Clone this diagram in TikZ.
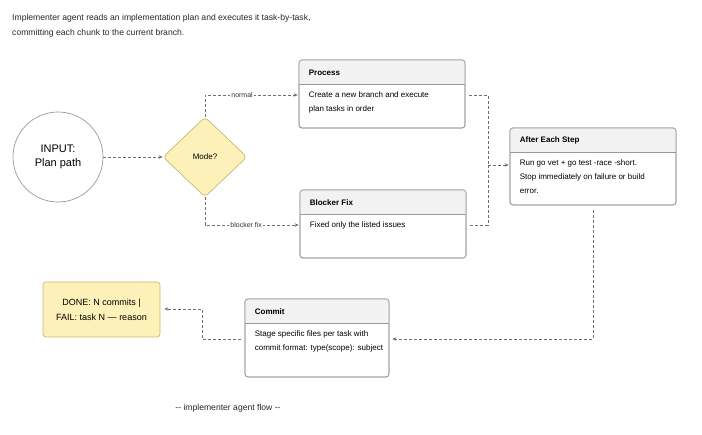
\documentclass[tikz,border=0pt]{standalone}
\usepackage{fontspec}
\setmainfont{Liberation Sans}
\usetikzlibrary{shapes.geometric,arrows.meta}

\definecolor{edgegray}{HTML}{6E6E6E}
\definecolor{boxline}{HTML}{999999}
\definecolor{headfill}{HTML}{F2F2F2}
\definecolor{notefill}{HTML}{FCF1B8}
\definecolor{noteline}{HTML}{C9B770}

\tikzset{
  flow/.style={draw=edgegray,dashed,dash pattern=on 3pt off 2pt,line width=0.7pt,
    -{Stealth[length=4pt,width=3.5pt]}},
  edgelabel/.style={fill=white,inner sep=1pt,font=\fontsize{7}{8}\selectfont,text=black!80},
  cardbox/.style={draw=boxline,line width=0.7pt,rounded corners=3pt,inner sep=0pt},
  cardtitle/.style={anchor=west,font=\bfseries\fontsize{8}{9}\selectfont,inner sep=0pt},
  cardbody/.style={anchor=north west,align=left,
    font=\fontsize{8}{14}\selectfont,inner sep=0pt},
}

% card: name, center x, center y, width, height, title, body
\newcommand{\card}[7]{%
  \node[cardbox,fill=white,minimum width=#4pt,minimum height=#5pt] (#1) at (#2,#3) {};
  \begin{scope}
    \clip[rounded corners=3pt] (#1.south west) rectangle (#1.north east);
    \fill[headfill] (#1.north west) rectangle ([yshift=-25pt]#1.north east);
  \end{scope}
  \draw[boxline,line width=0.7pt] ([yshift=-25pt]#1.north west) -- ([yshift=-25pt]#1.north east);
  \node[cardbox,minimum width=#4pt,minimum height=#5pt] at (#1) {};
  \node[cardtitle] (#1-title) at ([xshift=10pt,yshift=-13pt]#1.north west) {#6};
  \node[cardbody] (#1-body) at ([xshift=10pt,yshift=-32pt]#1.north west) {#7};
}

\begin{document}
\begin{tikzpicture}[x=1pt,y=-1pt]
  \useasboundingbox (0,0) rectangle (702,435);

  % heading
  \node[anchor=west,align=left,inner sep=0pt,font=\fontsize{8.6}{15}\selectfont,text=black!85]
    (heading) at (12,25.5) {Implementer agent reads an implementation plan and executes it task-by-task,\\
    committing each chunk to the current branch.};

  % start and decision
  \node[circle,draw=boxline,line width=0.7pt,minimum size=90pt,align=center,
    font=\fontsize{11}{14}\selectfont] (input) at (58,157) {INPUT:\\Plan path};
  \node[diamond,draw=noteline,fill=notefill,line width=0.7pt,rounded corners=4pt,
    minimum width=84pt,minimum height=80pt,inner sep=0pt,font=\fontsize{8}{9}\selectfont]
    (mode) at (205,157) {Mode?};

  % cards
  \card{process}{382}{94}{166}{68}{Process}{Create a new branch and execute\\plan tasks in order}
  \card{blocker}{383}{224}{166}{68}{Blocker Fix}{Fixed only the listed issues}
  \card{after}{593}{166.5}{166}{77}{After Each Step}{Run go vet + go test -race -short.\\Stop immediately on failure or build\\error.}
  \card{commit}{317}{338}{144}{78}{Commit}{Stage specific files per task with\\commit format: type(scope): subject}

  % result
  \node[draw=noteline,fill=notefill,line width=0.7pt,rounded corners=3pt,minimum width=117pt,
    minimum height=55pt,align=center,font=\fontsize{9}{15}\selectfont]
    (result) at (101.5,309.5) {DONE: N commits |\\FAIL: task N — reason};

  % connectors
  \coordinate (join) at (488,165);
  \draw[flow] (input) -- (mode);
  \draw[flow] (mode.north) |- node[edgelabel,pos=0.7] {normal} ([xshift=-1pt]process.west |- 0,95);
  \draw[flow] (mode.south) |- node[edgelabel,pos=0.72] {blocker fix} ([xshift=-1pt]blocker.west |- 0,225);
  \draw[flow,-] ([xshift=4pt]process.east |- 0,95) -| (join);
  \draw[flow,-] ([xshift=4pt]blocker.east |- 0,225) -| (join);
  \draw[flow] (join) -- ([xshift=-1pt]after.west |- join);
  \draw[flow] ([yshift=-5pt]after.south) |- ([xshift=3pt]commit.east |- 0,339);
  \draw[flow] ([xshift=-4pt]commit.west |- 0,339) -| (202,309) -- ([xshift=4pt]result.east |- 0,309);

  % footer
  \node[font=\fontsize{8.6}{10}\selectfont,text=black!85] (footer) at (228,408) {{-}{-} implementer agent flow {-}{-}};
\end{tikzpicture}
\end{document}
